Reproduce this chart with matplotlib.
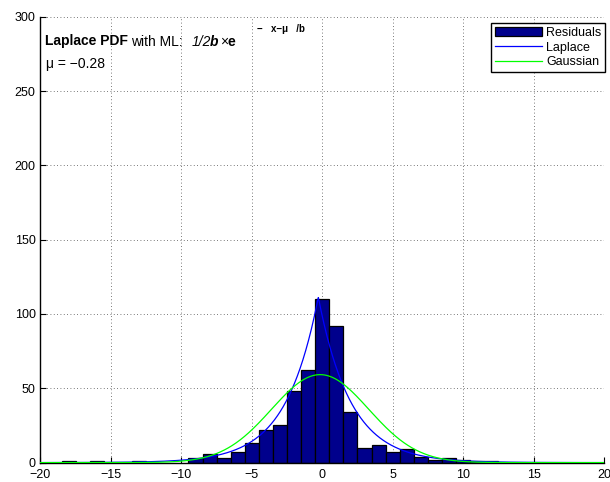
import numpy as np
import matplotlib
matplotlib.use("Agg")
import matplotlib.pyplot as plt

plt.rcParams['font.family'] = ['Liberation Sans', 'DejaVu Sans']

# Histogram of residuals (bin centres, unit-width bins) and counts
bin_centers = [-18, -16, -13, -9, -8, -7, -6, -5, -4, -3, -2, -1, 0,
               1, 2, 3, 4, 5, 6, 7, 8, 9, 10, 11, 12]
counts = [1, 1, 1, 3, 6, 3, 7, 13, 22, 25, 48, 62, 110,
          92, 34, 10, 12, 7, 9, 4, 2, 3, 2, 1, 1]
bin_width = 1.0

# Fitted distribution parameters
n_samples = 512
laplace_mu = -0.28
laplace_b = 2.3
gauss_mu = -0.15
gauss_sigma = 3.45

x_ticks = [-20, -15, -10, -5, 0, 5, 10, 15, 20]
y_ticks = [0, 50, 100, 150, 200, 250, 300]

W, H = 610, 482
fig = plt.figure(figsize=(W / 100, H / 100), dpi=100)
left, right, top, bottom = 40.5, 604.0, 16.8, 462.6
ax = fig.add_axes([left / W, (H - bottom) / H, (right - left) / W, (bottom - top) / H])

bars = ax.bar(bin_centers, counts, width=bin_width, color=(0, 0, 0.55),
              edgecolor='black', linewidth=0.9, zorder=2, label='Residuals')

xs = np.linspace(-20, 20, 1601)
lap = n_samples * bin_width / (2 * laplace_b) * np.exp(-np.abs(xs - laplace_mu) / laplace_b)
gau = n_samples * bin_width / (gauss_sigma * np.sqrt(2 * np.pi)) * \
    np.exp(-(xs - gauss_mu) ** 2 / (2 * gauss_sigma ** 2))
l_lap, = ax.plot(xs, lap, color=(0, 0, 1), lw=0.9, zorder=3, label='Laplace')
l_gau, = ax.plot(xs, gau, color=(0, 1, 0), lw=0.9, zorder=4, label='Gaussian')

ax.set_xlim(-20, 20)
ax.set_ylim(0, 300)
ax.set_xticks(x_ticks)
ax.set_yticks(y_ticks)
ax.set_xticklabels([str(v).replace('-', '\u2212') for v in x_ticks])
ax.set_yticklabels([str(v) for v in y_ticks])
ax.tick_params(direction='in', length=4, width=0.8, labelsize=9,
               top=False, right=False)
ax.tick_params(axis='x', pad=4.5)
ax.tick_params(axis='y', pad=3.5)
for side in ('top', 'right'):
    ax.spines[side].set_visible(False)
for side in ('left', 'bottom'):
    ax.spines[side].set_linewidth(1.0)
ax.set_axisbelow(True)
ax.grid(True, color='0.3', linestyle=(0, (1, 3)), linewidth=0.6)
ax.patch.set_alpha(0)

leg = ax.legend(handles=[bars, l_lap, l_gau], loc='upper right',
                bbox_to_anchor=(605 / W, 1 - 23 / H),
                bbox_transform=fig.transFigure, fontsize=9, frameon=True,
                fancybox=False, framealpha=1, edgecolor='black',
                handlelength=3.8, handleheight=0.8, handletextpad=0.3,
                borderpad=0.3, labelspacing=0.2, borderaxespad=0)
leg.get_frame().set_linewidth(1.0)


def put(x, y, s, **kw):
    fig.text(x / W, 1 - y / H, s, va='baseline', ha='left', **kw)


base = 45.5
put(45, base, "Laplace PDF", size=10, weight='bold')
put(131, base, "with ML:", size=10)
put(192, base, "1/2", size=10, style='italic')
put(210, base, "b", size=10, style='italic', weight='bold')
put(220, base, "\u00d7", size=10)
put(227, base, "e", size=10, weight='bold')
put(257, 32, "\u2212   x\u2212\u03bc   /b", size=7, weight='bold')
put(46, 68, "\u03bc = \u22120.28", size=10)

fig.savefig("out.png", dpi=100)
